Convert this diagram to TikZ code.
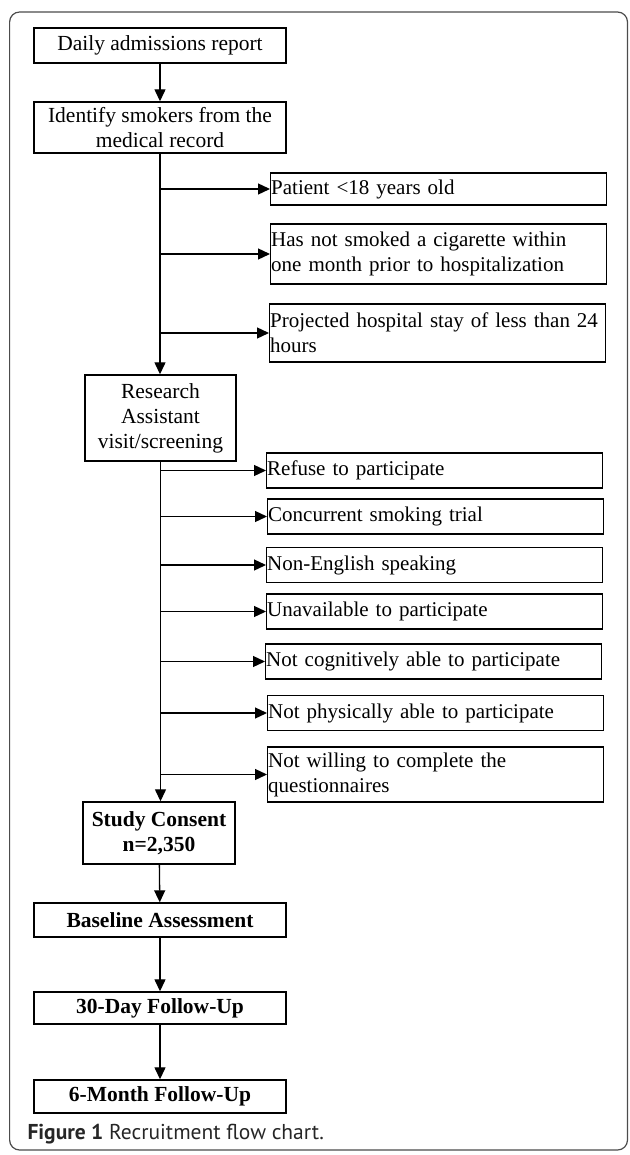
\documentclass[tikz,border=0pt]{standalone}
\usepackage{fontspec}
\setmainfont{Liberation Serif}
\newfontfamily\capfont{PT Sans}
\usetikzlibrary{arrows.meta,positioning}

\begin{document}
\begin{tikzpicture}[x=1pt, y=-1pt,
    box/.style={rectangle, draw=black, line width=1.4pt, align=center, inner sep=2pt, font=\fontsize{21.5}{25}\selectfont},
    mainbox/.style={box, minimum width=252pt},
    boldbox/.style={mainbox, font=\fontsize{21.5}{25}\selectfont\bfseries},
    exbox/.style={box, anchor=west, inner xsep=0.5pt, text width=335pt, align=left, minimum height=35pt, font=\fontsize{21}{25}\selectfont},
    arrow/.style={-{Triangle[length=12pt,width=11pt]}, line width=1.3pt},
    caption/.style={font=\capfont\fontsize{21.5}{24}\selectfont, text=black!85, anchor=west}
]
\useasboundingbox (0,0) rectangle (629,1155);
\draw[black!70, line width=1.2pt, rounded corners=10pt] (9.6,12) rectangle (627.5,1150);

% Top: admissions and smoker identification
\node[mainbox, minimum height=35pt] (daily) at (160,45.5) {Daily admissions report};
\node[mainbox, minimum height=51pt] (identify) at (160,127.5) {Identify smokers from the\\medical record};

% First exclusions
\node[exbox, minimum height=32pt] (young) at (270,189) {Patient <18 years old};
\node[exbox, minimum height=60pt] (nosmoke) at (270,254) {Has not smoked a cigarette within\\one month prior to hospitalization};
\node[exbox, minimum height=58pt] (shortstay) at (269,333) {Projected hospital stay of less than 24\\hours};

\node[box, minimum width=151pt, minimum height=86pt] (visit) at (160.5,418) {Research\\Assistant\\visit/screening};

% Screening exclusions
\node[exbox] (refuse) at (266,470.5) {Refuse to participate};
\node[exbox] (trial) at (267,516.5) {Concurrent smoking trial};
\node[exbox] (english) at (266,565) {Non-English speaking};
\node[exbox] (unavail) at (266,611.5) {Unavailable to participate};
\node[exbox] (cognitive) at (265,661.5) {Not cognitively able to participate};
\node[exbox] (physical) at (267,713) {Not physically able to participate};
\node[exbox, minimum height=55pt] (unwilling) at (267,774.5) {Not willing to complete the\\questionnaires};

% Study steps
\node[boldbox, minimum width=152pt, minimum height=62pt] (consent) at (159,833) {Study Consent\\n=2,350};
\node[boldbox, minimum height=34pt] (baseline) at (160,920) {Baseline Assessment};
\node[boldbox, minimum height=32pt] (followup30) at (160,1008) {30-Day Follow-Up};
\node[boldbox, minimum height=33pt] (followup6) at (160,1096.5) {6-Month Follow-Up};

\node[caption] (figcap) at (24,1134) {\textbf{Figure 1} Recruitment flow chart.};

\draw[arrow] (daily) -- (identify);
\draw[arrow] (identify.south) -- (identify.south |- visit.north);
\draw[arrow] (identify.south |- young.west) -- (young.west);
\draw[arrow] (identify.south |- nosmoke.west) -- (nosmoke.west);
\draw[arrow] (identify.south |- shortstay.west) -- (shortstay.west);

\draw[arrow] (visit.south) -- (visit.south |- consent.north);
\draw[arrow] (visit.south |- refuse.west) -- (refuse.west);
\draw[arrow] (visit.south |- trial.west) -- (trial.west);
\draw[arrow] (visit.south |- english.west) -- (english.west);
\draw[arrow] (visit.south |- unavail.west) -- (unavail.west);
\draw[arrow] (visit.south |- cognitive.west) -- (cognitive.west);
\draw[arrow] (visit.south |- physical.west) -- (physical.west);
\draw[arrow] (visit.south |- unwilling.west) -- (unwilling.west);

\draw[arrow] (consent) -- (baseline);
\draw[arrow] (baseline) -- (followup30);
\draw[arrow] (followup30) -- (followup6);
\end{tikzpicture}
\end{document}
